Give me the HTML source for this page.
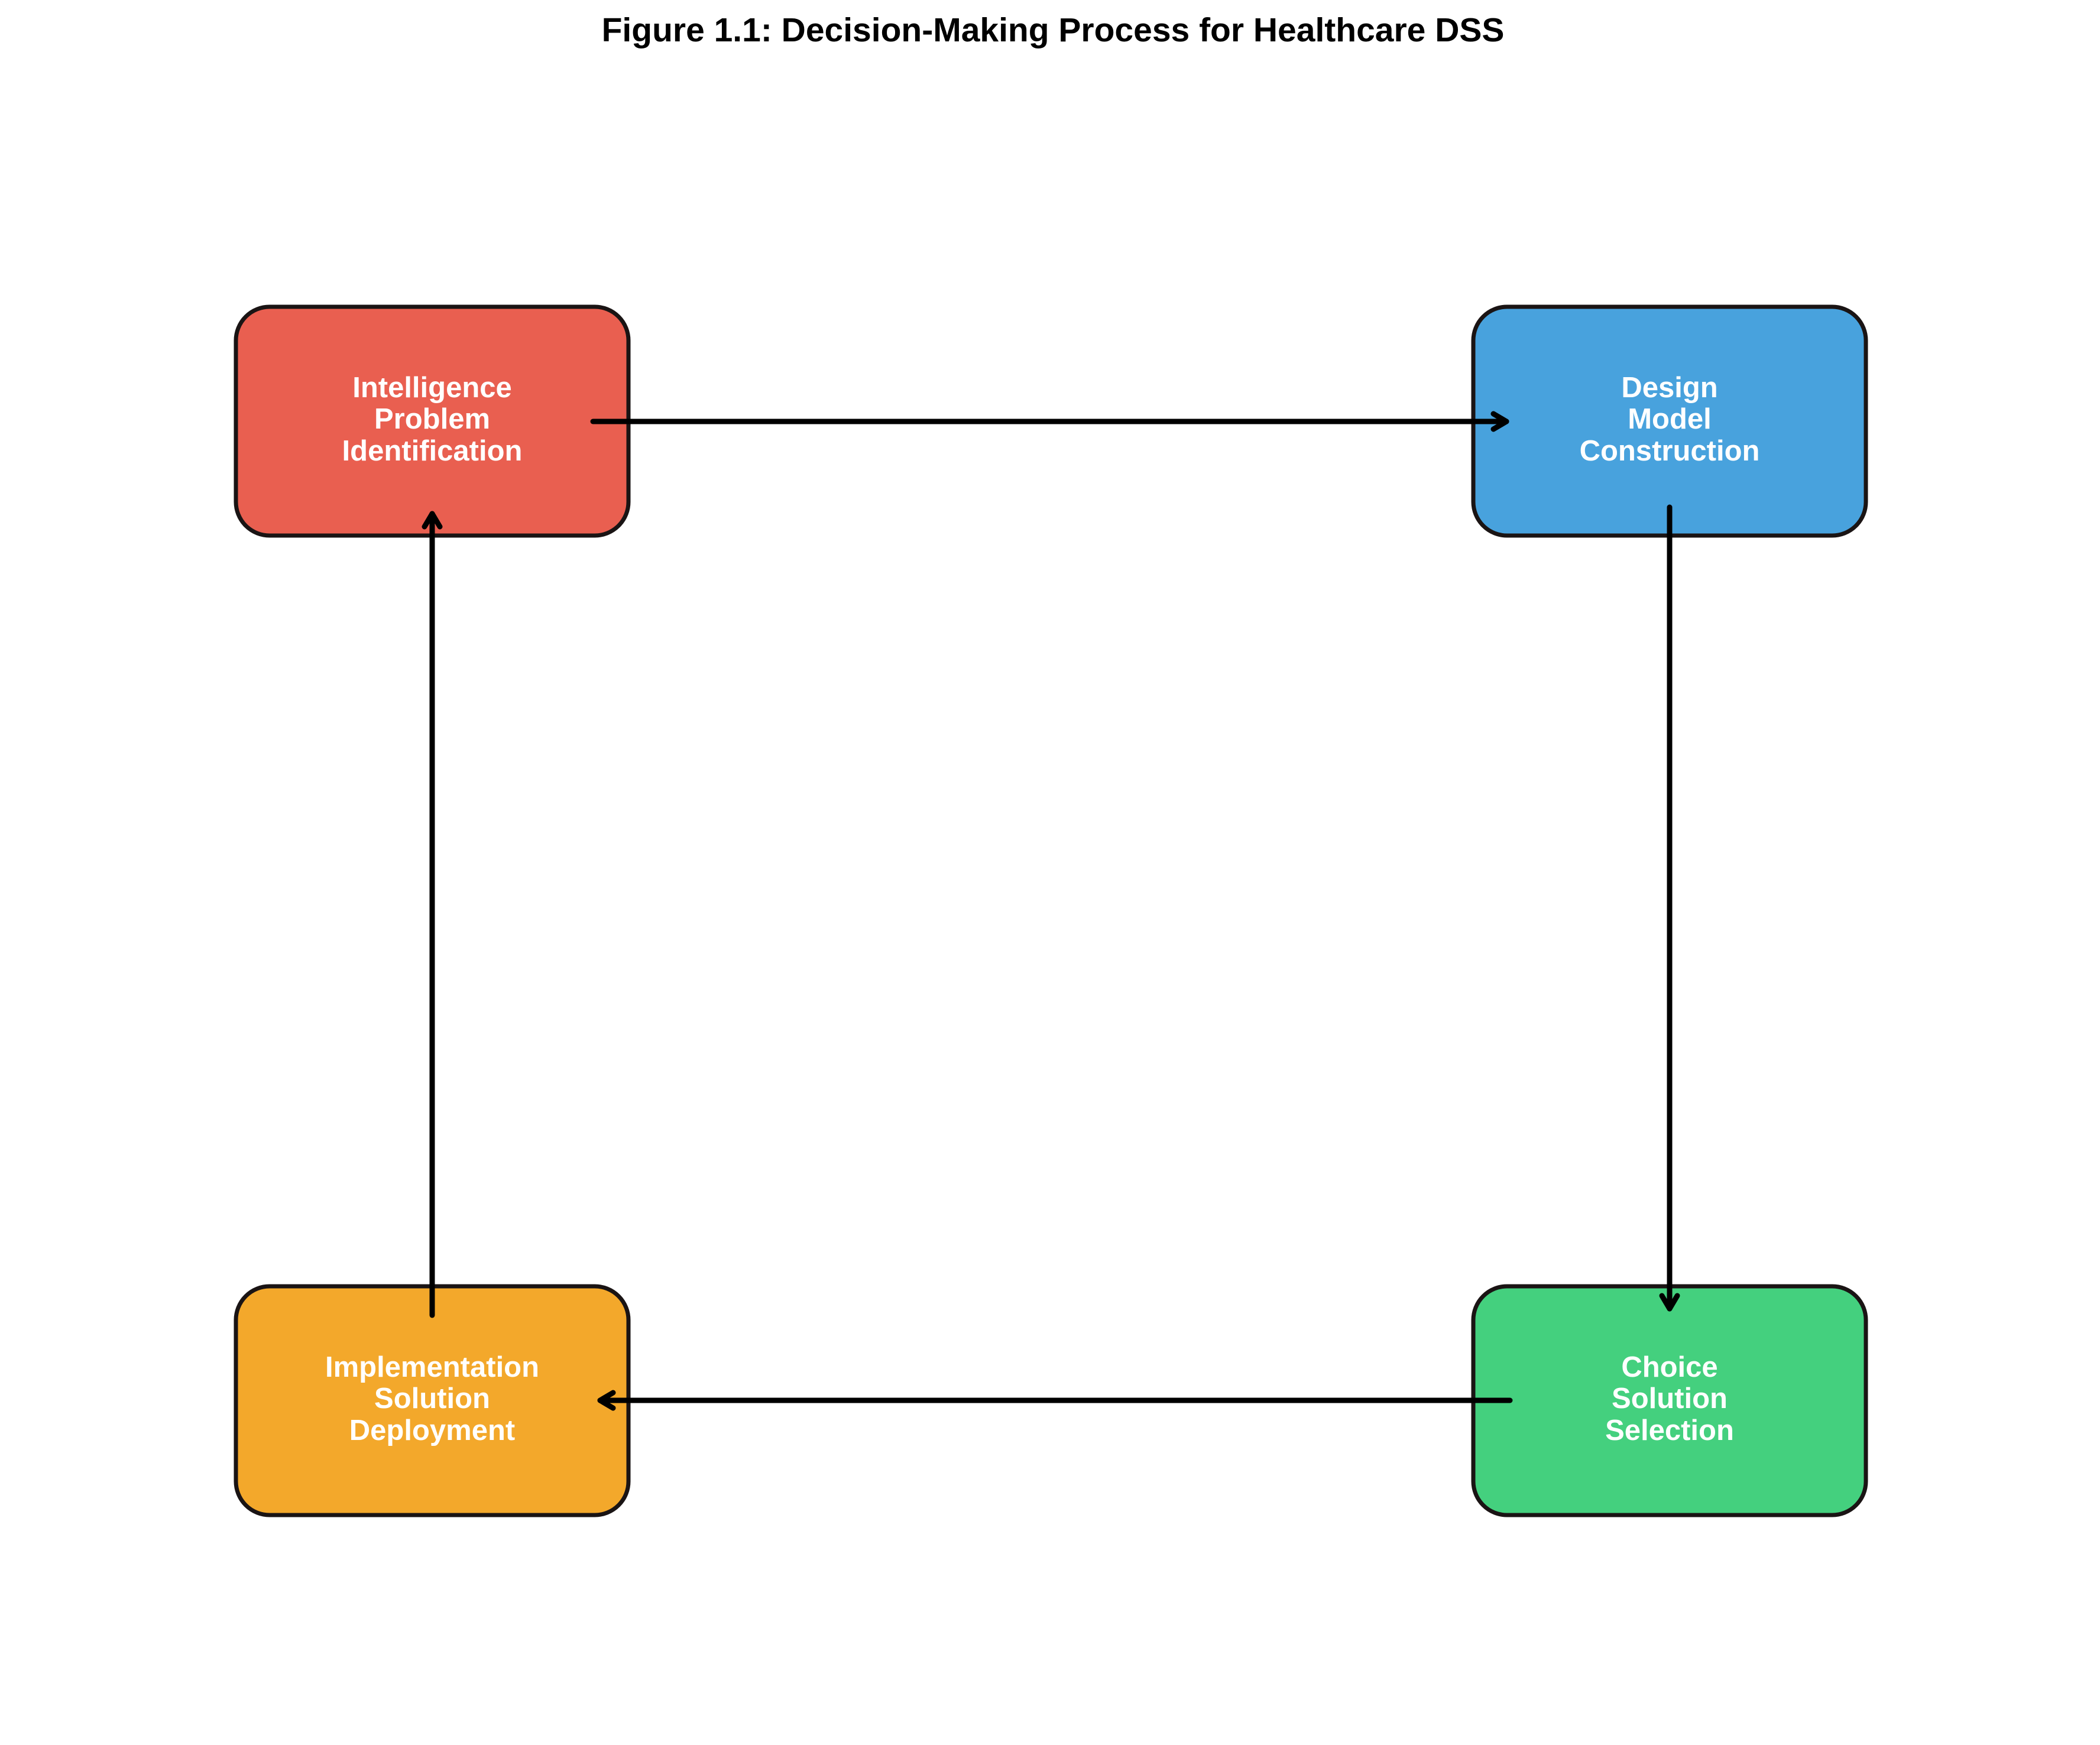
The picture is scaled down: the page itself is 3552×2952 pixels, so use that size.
<!DOCTYPE html>
<html><head><meta charset="utf-8"><style>
html,body{margin:0;padding:0;background:#fff;}
svg{display:block;}
text{font-family:"Liberation Sans",Arial,sans-serif;font-weight:bold;}
</style></head><body>
<svg width="3552" height="2952" viewBox="0 0 3552 2952" xmlns="http://www.w3.org/2000/svg">
<rect width="3552" height="2952" fill="#fff"/>
<text x="1781" y="70" font-size="57" text-anchor="middle" fill="#000">Figure 1.1: Decision-Making Process for Healthcare DSS</text>
<g stroke="#1a1414" stroke-width="7">
<rect x="399" y="519" width="664" height="387" rx="57" fill="#E95F50"/>
<rect x="2492" y="519" width="664" height="387" rx="57" fill="#48A2DD"/>
<rect x="2492" y="2176" width="664" height="387" rx="57" fill="#44D07E"/>
<rect x="399" y="2176" width="664" height="387" rx="57" fill="#F3A82B"/>
</g>
<g fill="#fff" font-size="49" text-anchor="middle">
<text x="731" y="672">Intelligence</text><text x="731" y="725">Problem</text><text x="731" y="779">Identification</text>
<text x="2824" y="672">Design</text><text x="2824" y="725">Model</text><text x="2824" y="779">Construction</text>
<text x="2824" y="2329">Choice</text><text x="2824" y="2382">Solution</text><text x="2824" y="2436">Selection</text>
<text x="731" y="2329">Implementation</text><text x="731" y="2382">Solution</text><text x="731" y="2436">Deployment</text>
</g>
<g stroke="#000" stroke-width="9" stroke-linecap="round" stroke-linejoin="round" fill="none">
<line x1="1003" y1="713" x2="2548" y2="713"/><polyline points="2526,700 2548,713 2526,726"/>
<line x1="2824" y1="858" x2="2824" y2="2214"/><polyline points="2811,2192 2824,2214 2837,2192"/>
<line x1="2554" y1="2369" x2="1015" y2="2369"/><polyline points="1037,2356 1015,2369 1037,2382"/>
<line x1="731" y1="2225" x2="731" y2="869"/><polyline points="718,891 731,869 744,891"/>
</g>
</svg>
</body></html>
